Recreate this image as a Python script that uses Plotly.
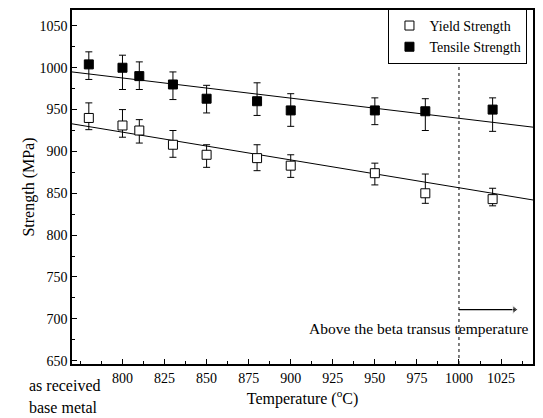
import plotly.graph_objects as go

temps = [780, 800, 810, 830, 850, 880, 900, 950, 980, 1020]
tensile = [1004, 1000, 990, 980, 963, 960, 949, 949, 948, 950]
tensile_hi = [1019, 1015, 1007, 995, 979, 982, 969, 964, 963, 964]
tensile_lo = [986, 974, 974, 962, 946, 943, 930, 932, 925, 924]
yield_s = [940, 931, 925, 908, 896, 892, 883, 874, 850, 843]
yield_hi = [958, 950, 938, 925, 908, 908, 896, 886, 873, 856]
yield_lo = [926, 917, 910, 893, 881, 877, 869, 860, 838, 835]
fit_x = [770, 1044]
tensile_fit = [995, 929]
yield_fit = [933, 842]
arrow_x = [1000, 1033]
arrow_y = [711, 711]
xticks = [800, 825, 850, 875, 900, 925, 950, 975, 1000, 1025]
yticks = [650, 700, 750, 800, 850, 900, 950, 1000, 1050]

FONT = "Liberation Serif"

def err(v, hi, lo):
    return dict(type="data", symmetric=False,
                array=[h - x for h, x in zip(hi, v)],
                arrayminus=[x - l for x, l in zip(v, lo)],
                color="black", thickness=1, width=3.5)

fig = go.Figure()
fig.add_trace(go.Scatter(x=fit_x, y=tensile_fit, mode="lines",
                         line=dict(color="black", width=1), showlegend=False))
fig.add_trace(go.Scatter(x=fit_x, y=yield_fit, mode="lines",
                         line=dict(color="black", width=1), showlegend=False))
fig.add_trace(go.Scatter(x=temps, y=yield_s, mode="markers", name="Yield Strength",
                         marker=dict(symbol="square", size=9, color="white",
                                     line=dict(color="black", width=1)),
                         error_y=err(yield_s, yield_hi, yield_lo)))
fig.add_trace(go.Scatter(x=temps, y=tensile, mode="markers", name="Tensile Strength",
                         marker=dict(symbol="square", size=9, color="black",
                                     line=dict(color="black", width=1)),
                         error_y=err(tensile, tensile_hi, tensile_lo)))
fig.add_trace(go.Scatter(x=arrow_x, y=arrow_y, mode="lines+markers", showlegend=False,
                         line=dict(color="black", width=1.2),
                         marker=dict(symbol=["circle", "triangle-right"], size=[0, 7],
                                     color="black")))

fig.add_shape(type="line", x0=1000, x1=1000, y0=0, y1=1, xref="x", yref="paper",
              line=dict(color="black", width=1, dash="dot"))
fig.add_annotation(x=1043, y=689, xref="x", yref="y", xanchor="right", showarrow=False,
                   text="Above the beta transus temperature",
                   font=dict(family=FONT, size=15.5, color="black"))
fig.add_annotation(x=-0.097, y=(364 - 386) / 356, xref="paper", yref="paper", showarrow=False,
                   text="as received", xanchor="left", yanchor="middle",
                   font=dict(family=FONT, size=16, color="black"))
fig.add_annotation(x=-0.097, y=(364 - 408) / 356, xref="paper", yref="paper", showarrow=False,
                   text="base metal", xanchor="left", yanchor="middle",
                   font=dict(family=FONT, size=16, color="black"))

axis_common = dict(showgrid=False, zeroline=False, showline=True, linecolor="black",
                   linewidth=1.5, mirror=True, ticks="inside", ticklen=5,
                   tickcolor="black", tickwidth=1,
                   tickfont=dict(family=FONT, size=14, color="black"))

fig.update_xaxes(range=[770, 1044], tickvals=xticks,
                 minor=dict(ticks="inside", dtick=12.5, tick0=800, ticklen=3, tickcolor="black"),
                 title=dict(text="Temperature (<sup>o</sup>C)", standoff=8,
                            font=dict(family=FONT, size=16, color="black")),
                 **axis_common)
fig.update_yaxes(range=[646, 1069], tickvals=yticks,
                 minor=dict(ticks="inside", dtick=25, tick0=650, ticklen=3, tickcolor="black"),
                 title=dict(text="Strength (MPa)", standoff=1,
                            font=dict(family=FONT, size=16, color="black")),
                 **axis_common)

fig.update_layout(width=543, height=418, margin=dict(l=72, r=8, t=8, b=54),
                  plot_bgcolor="white", paper_bgcolor="white",
                  legend=dict(x=0.988, y=1.003, xanchor="right", yanchor="top",
                              bordercolor="black", borderwidth=1, bgcolor="white",
                              font=dict(family=FONT, size=14, color="black"),
                              itemwidth=30, tracegroupgap=0))

fig.write_html("out.html")
